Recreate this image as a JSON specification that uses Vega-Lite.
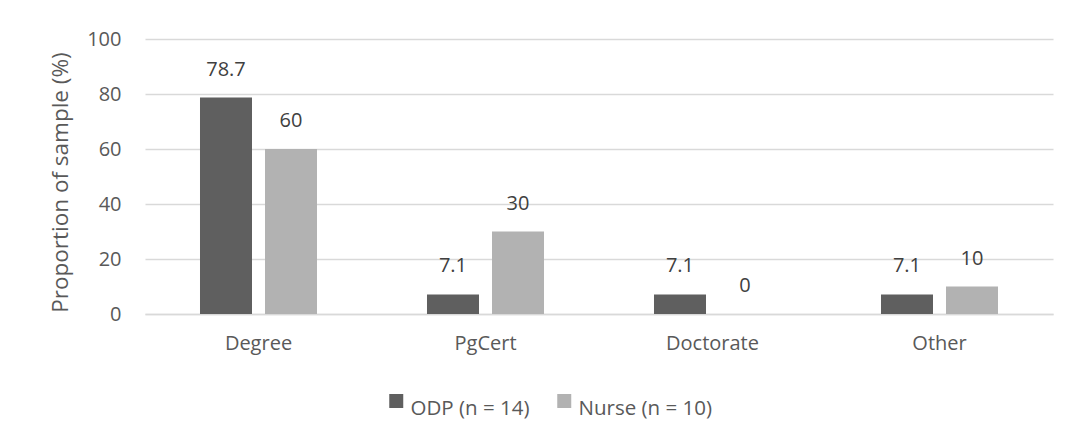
{
  "$schema": "https://vega.github.io/schema/vega-lite/v6.json",
  "autosize": "none",
  "width": 908,
  "height": 275,
  "padding": {"left": 145, "top": 39, "right": 25, "bottom": 131},
  "background": "white",
  "config": {
    "font": "Open Sans",
    "view": {"stroke": null},
    "axis": {"labelColor": "#595959", "titleColor": "#595959", "labelFontSize": 20, "titleFontSize": 22.5, "titleFontWeight": "normal", "labelFont": "Open Sans", "titleFont": "Open Sans"},
    "legend": {"labelColor": "#595959", "labelFontSize": 20.5, "labelFont": "Open Sans"}
  },
  "data": {
    "values": [
      {"category": "Degree", "group": "ODP (n = 14)", "value": 78.7},
      {"category": "Degree", "group": "Nurse (n = 10)", "value": 60},
      {"category": "PgCert", "group": "ODP (n = 14)", "value": 7.1},
      {"category": "PgCert", "group": "Nurse (n = 10)", "value": 30},
      {"category": "Doctorate", "group": "ODP (n = 14)", "value": 7.1},
      {"category": "Doctorate", "group": "Nurse (n = 10)", "value": 0},
      {"category": "Other", "group": "ODP (n = 14)", "value": 7.1},
      {"category": "Other", "group": "Nurse (n = 10)", "value": 10}
    ]
  },
  "encoding": {
    "x": {
      "field": "category", "type": "nominal",
      "sort": ["Degree", "PgCert", "Doctorate", "Other"],
      "scale": {"paddingInner": 0, "paddingOuter": 0},
      "axis": {"title": null, "labelAngle": 0, "ticks": false, "domain": true, "domainColor": "#d9d9d9", "domainWidth": 1.5, "labelPadding": 19, "grid": false}
    },
    "xOffset": {
      "field": "group", "type": "nominal",
      "sort": ["ODP (n = 14)", "Nurse (n = 10)"],
      "scale": {"paddingInner": 0.2, "paddingOuter": 0.846}
    },
    "y": {
      "field": "value", "type": "quantitative",
      "scale": {"domain": [0, 100]},
      "axis": {"title": "Proportion of sample (%)", "values": [0, 20, 40, 60, 80, 100], "domain": false, "ticks": false, "grid": true, "gridColor": "#d9d9d9", "gridWidth": 1.5, "labelPadding": 24, "titlePadding": 14, "titleY": 143}
    }
  },
  "layer": [
    {
      "mark": {"type": "bar"},
      "encoding": {
        "color": {
          "field": "group", "type": "nominal",
          "sort": ["ODP (n = 14)", "Nurse (n = 10)"],
          "scale": {"domain": ["ODP (n = 14)", "Nurse (n = 10)"], "range": ["#5f5f5f", "#b2b2b2"]},
          "legend": {"title": null, "orient": "none", "direction": "horizontal", "legendX": 241, "legendY": 360, "symbolType": "M-1,-2.2H1V-0.2H-1Z", "symbolSize": 196, "symbolStrokeWidth": 0, "symbolOpacity": 1, "columnPadding": 24, "labelOffset": 4}
        }
      }
    },
    {
      "mark": {"type": "text", "baseline": "middle", "dy": -28, "fontSize": 20, "color": "#404040", "font": "Open Sans"},
      "encoding": {
        "text": {"field": "value", "type": "quantitative"}
      }
    }
  ]
}
